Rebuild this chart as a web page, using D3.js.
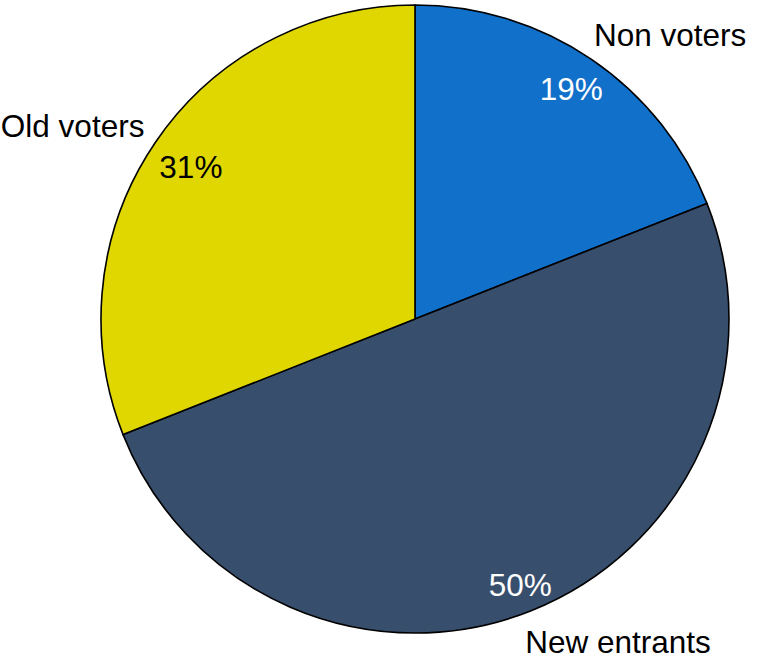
<!DOCTYPE html>
<html>
<head>
<meta charset="utf-8">
<script src="https://cdn.jsdelivr.net/npm/d3@7"></script>
<style>
  html, body { margin: 0; padding: 0; background: #fff; }
  svg { display: block; }
  text { font-family: "Liberation Sans", Arial, sans-serif; }
</style>
</head>
<body>
<svg id="chart" width="760" height="663"></svg>
<script>
// Share of voters by group
const categories = ["Non voters", "New entrants", "Old voters"];
const shares = [19, 50, 31];
const colors = ["#1170C9", "#384E6D", "#E0D700"];
const pctColors = ["#ffffff", "#ffffff", "#000000"];

const cx = 415, cy = 319, R = 314;
const fontSize = 31.5;

// Label placement in polar terms around the centre (degrees clockwise from 12 o'clock)
const pctRadius = [278, 286, 271];
const nameAngles = [41.9, 147.8, 299.4];
const nameRadius = [382, 381, 393];

const svg = d3.select("#chart");
const g = svg.append("g").attr("transform", `translate(${cx},${cy})`);

const pie = d3.pie().sort(null).value(d => d.value);
const data = pie(categories.map((c, i) => ({ name: c, value: shares[i], i })));

const arc = d3.arc().innerRadius(0).outerRadius(R);
const polar = (deg, r) => [Math.sin(deg * Math.PI / 180) * r, -Math.cos(deg * Math.PI / 180) * r];
const midDeg = d => ((d.startAngle + d.endAngle) / 2) * 180 / Math.PI;

g.selectAll("path.slice")
  .data(data)
  .join("path")
  .attr("class", "slice")
  .attr("d", arc)
  .attr("fill", d => colors[d.data.i])
  .attr("stroke", "#000")
  .attr("stroke-width", 1.6)
  .attr("stroke-linejoin", "round");

g.selectAll("text.pct")
  .data(data)
  .join("text")
  .attr("class", "pct")
  .attr("x", d => polar(midDeg(d), pctRadius[d.data.i])[0])
  .attr("y", d => polar(midDeg(d), pctRadius[d.data.i])[1])
  .attr("dy", "0.36em")
  .attr("text-anchor", "middle")
  .attr("font-size", fontSize)
  .attr("fill", d => pctColors[d.data.i])
  .text(d => d.data.value + "%");

g.selectAll("text.name")
  .data(data)
  .join("text")
  .attr("class", "name")
  .attr("x", d => polar(nameAngles[d.data.i], nameRadius[d.data.i])[0])
  .attr("y", d => polar(nameAngles[d.data.i], nameRadius[d.data.i])[1])
  .attr("dy", "0.36em")
  .attr("text-anchor", "middle")
  .attr("font-size", fontSize)
  .attr("fill", "#000")
  .text(d => d.data.name);
</script>
</body>
</html>
